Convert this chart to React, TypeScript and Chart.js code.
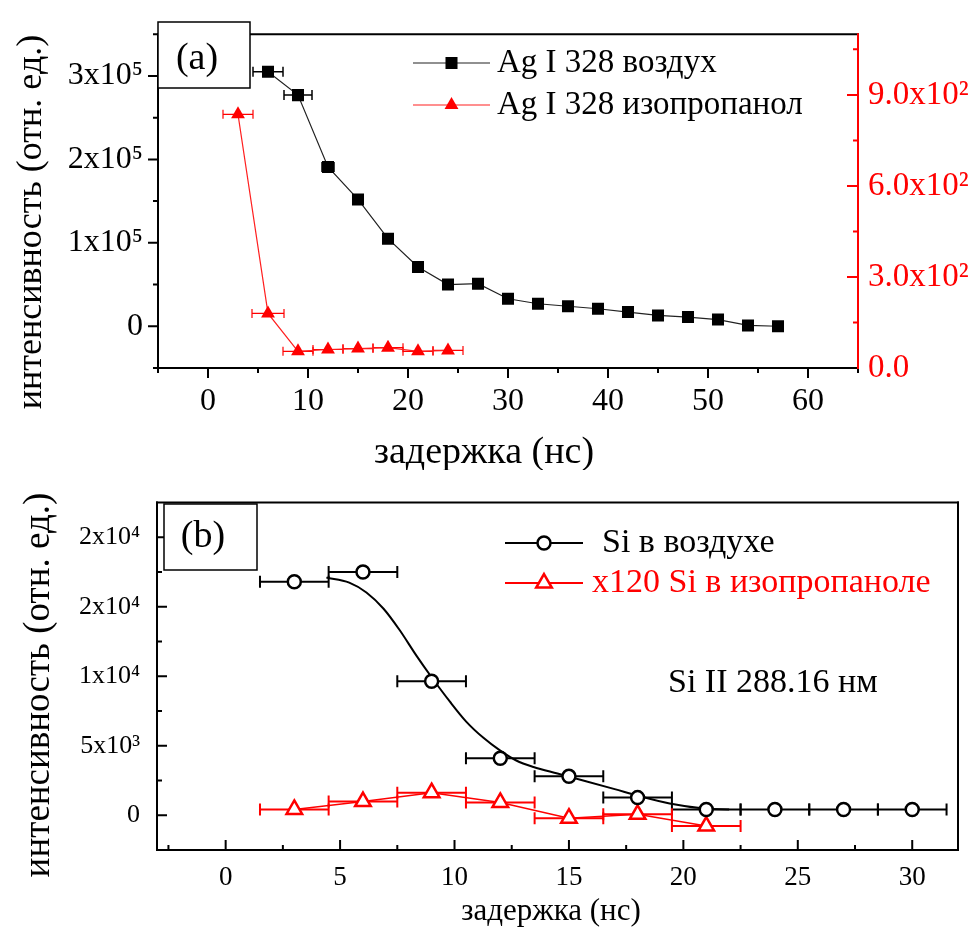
import React, { useEffect, useRef } from 'react';
import { Chart, registerables } from 'chart.js';

Chart.register(...registerables);

const SERIF = '"Liberation Serif", "Times New Roman", "DejaVu Serif", serif';

// ---------- Panel (a): Ag I 328 ----------
const agDelayAir = [6, 9, 12, 15, 18, 21, 24, 27, 30, 33, 36, 39, 42, 45, 48, 51, 54, 57];
const agAir = [305000, 277000, 191000, 152000, 105000, 71000, 50000, 51000, 33000, 27000, 24000, 21000, 17000, 13000, 11000, 8000, 1000, 0];
const agAirErr = [1.5, 1.4, 0.6, 0.5, 0, 0, 0, 0, 0, 0, 0, 0, 0, 0, 0, 0, 0, 0];
const agDelayIso = [3, 6, 9, 12, 15, 18, 21, 24];
const agIso = [836, 180, 55, 61, 64, 67, 55, 58];
const agIsoErr = [1.5, 1.6, 1.5, 1.5, 1.5, 1.5, 1.5, 1.5];

const xTicksA = [0, 10, 20, 30, 40, 50, 60];
const xTickLabelsA = ['0', '10', '20', '30', '40', '50', '60'];
const xMinorA = [-5, 5, 15, 25, 35, 45, 55, 65];
const yTicksA = [0, 100000, 200000, 300000];
const yTickLabelsA = ['0', '1x10⁵', '2x10⁵', '3x10⁵'];
const yMinorA = [-50000, 50000, 150000, 250000, 350000];
const y2TicksA = [0, 300, 600, 900];
const y2TickLabelsA = ['0.0', '3.0x10²', '6.0x10²', '9.0x10²'];
const y2MinorA = [150, 450, 750, 1050];

// ---------- Panel (b): Si II 288.16 ----------
const siDelay = [3, 6, 9, 12, 15, 18, 21, 24, 27, 30];
const siAir = [16800, 17500, 9650, 4100, 2800, 1270, 420, 420, 420, 420];
const siAirErr = [1.5, 1.5, 1.5, 1.5, 1.5, 1.5, 1.5, 1.5, 1.5, 1.5];
const siIsoDelay = [3, 6, 9, 12, 15, 18, 21];
const siIso = [420, 990, 1620, 920, -210, 70, -780];
const siIsoErr = [1.5, 1.5, 1.5, 1.5, 1.5, 1.5, 1.5];
const fitDelay = [4.4, 5.4, 6.15, 6.9, 7.6, 8.35, 9.0, 9.8, 10.5, 11.25, 12.0, 12.7, 13.45, 14.5, 15.5, 17.0, 18.0, 19.4, 20.9, 22.0];
const fitAir = [17100, 16740, 16030, 14860, 13330, 11450, 9930, 8170, 6760, 5590, 4650, 3940, 3470, 3000, 2560, 1880, 1410, 850, 490, 420];

const xTicksB = [0, 5, 10, 15, 20, 25, 30];
const xTickLabelsB = ['0', '5', '10', '15', '20', '25', '30'];
const xMinorB = [-2.5, 2.5, 7.5, 12.5, 17.5, 22.5, 27.5];
const yTicksB = [0, 5000, 10000, 15000, 20000];
const yTickLabelsB = ['0', '5x10³', '1x10⁴', '2x10⁴', '2x10⁴'];
const yMinorB = [2500, 7500, 12500, 17500];

type Side = 'top' | 'bottom' | 'left' | 'right';

function drawMarker(ctx: CanvasRenderingContext2D, style: string, x: number, y: number, r: number, fill: string, stroke: string, lw: number) {
  ctx.save();
  ctx.beginPath();
  if (style === 'rect') {
    const s = Math.SQRT1_2 * r;
    ctx.rect(x - s, y - s, 2 * s, 2 * s);
  } else if (style === 'triangle') {
    let rad = 0;
    ctx.moveTo(x + Math.sin(rad) * r, y - Math.cos(rad) * r);
    rad += (2 * Math.PI) / 3;
    ctx.lineTo(x + Math.sin(rad) * r, y - Math.cos(rad) * r);
    rad += (2 * Math.PI) / 3;
    ctx.lineTo(x + Math.sin(rad) * r, y - Math.cos(rad) * r);
    ctx.closePath();
  } else {
    ctx.arc(x, y, r, 0, Math.PI * 2);
  }
  ctx.fillStyle = fill;
  ctx.fill();
  if (lw > 0) {
    ctx.lineWidth = lw;
    ctx.strokeStyle = stroke;
    ctx.stroke();
  }
  ctx.restore();
}

function makeDecor(cfg: any) {
  return {
    id: 'decor',
    beforeDatasetsDraw(chart: any) {
      const ctx: CanvasRenderingContext2D = chart.ctx;
      (cfg.errorBars || []).forEach((eb: any) => {
        const meta = chart.getDatasetMeta(eb.dataset);
        const xs = chart.scales[meta.xAxisID];
        const ds = chart.data.datasets[eb.dataset];
        ctx.save();
        ctx.strokeStyle = eb.color;
        ctx.lineWidth = eb.width;
        meta.data.forEach((el: any, i: number) => {
          const err = eb.err[i];
          if (!err) return;
          const raw = ds.data[i];
          const x1 = xs.getPixelForValue(raw.x - err);
          const x2 = xs.getPixelForValue(raw.x + err);
          const y = el.y;
          ctx.beginPath();
          ctx.moveTo(x1, y);
          ctx.lineTo(x2, y);
          ctx.moveTo(x1, y - eb.cap / 2);
          ctx.lineTo(x1, y + eb.cap / 2);
          ctx.moveTo(x2, y - eb.cap / 2);
          ctx.lineTo(x2, y + eb.cap / 2);
          ctx.stroke();
        });
        ctx.restore();
      });
    },
    afterDraw(chart: any) {
      const ctx: CanvasRenderingContext2D = chart.ctx;
      const a = chart.chartArea;
      ctx.save();
      (cfg.ticks || []).forEach((t: any) => {
        const sc = chart.scales[t.scale];
        ctx.strokeStyle = t.color;
        ctx.lineWidth = t.width;
        ctx.beginPath();
        t.values.forEach((v: number) => {
          const p = sc.getPixelForValue(v);
          if (t.side === 'bottom') {
            ctx.moveTo(p, a.bottom);
            ctx.lineTo(p, t.dir === 'out' ? a.bottom + t.len : a.bottom - t.len);
          } else if (t.side === 'left') {
            ctx.moveTo(a.left, p);
            ctx.lineTo(t.dir === 'out' ? a.left - t.len : a.left + t.len, p);
          } else if (t.side === 'right') {
            ctx.moveTo(a.right, p);
            ctx.lineTo(t.dir === 'out' ? a.right + t.len : a.right - t.len, p);
          }
        });
        ctx.stroke();
      });
      (cfg.edges || []).forEach((e: { side: Side; color: string; width: number }) => {
        ctx.strokeStyle = e.color;
        ctx.lineWidth = e.width;
        ctx.beginPath();
        if (e.side === 'top') { ctx.moveTo(a.left - 1, a.top); ctx.lineTo(a.right + 1, a.top); }
        if (e.side === 'bottom') { ctx.moveTo(a.left - 1, a.bottom); ctx.lineTo(a.right + 1, a.bottom); }
        if (e.side === 'left') { ctx.moveTo(a.left, a.top - 1); ctx.lineTo(a.left, a.bottom + 1); }
        if (e.side === 'right') { ctx.moveTo(a.right, a.top - 1); ctx.lineTo(a.right, a.bottom + 1); }
        ctx.stroke();
      });
      (cfg.boxes || []).forEach((b: any) => {
        ctx.fillStyle = '#fff';
        ctx.fillRect(b.x, b.y, b.w, b.h);
        ctx.strokeStyle = '#000';
        ctx.lineWidth = 1.5;
        ctx.strokeRect(b.x, b.y, b.w, b.h);
      });
      (cfg.legend || []).forEach((l: any) => {
        const ds = chart.data.datasets[l.dataset];
        ctx.strokeStyle = ds.borderColor;
        ctx.lineWidth = l.lineWidth;
        ctx.beginPath();
        ctx.moveTo(l.x1, l.y);
        ctx.lineTo(l.x2, l.y);
        ctx.stroke();
        drawMarker(ctx, ds.pointStyle, (l.x1 + l.x2) / 2, l.y, ds.pointRadius, ds.pointBackgroundColor, ds.pointBorderColor, ds.pointBorderWidth);
        ctx.fillStyle = l.textColor;
        ctx.font = l.font;
        ctx.textAlign = 'left';
        ctx.textBaseline = 'middle';
        ctx.fillText(ds.label, l.textX, l.y);
      });
      (cfg.texts || []).forEach((t: any) => {
        ctx.save();
        ctx.fillStyle = t.color || '#000';
        ctx.font = t.font;
        ctx.textAlign = t.align || 'center';
        ctx.textBaseline = 'middle';
        ctx.translate(t.x, t.y);
        if (t.rotate) ctx.rotate(t.rotate);
        ctx.fillText(t.text, 0, 0);
        ctx.restore();
      });
      ctx.restore();
    },
  };
}

function fixedTicks(values: number[]) {
  return (scale: any) => {
    scale.ticks = values.map((v) => ({ value: v }));
  };
}

function axis(opts: any) {
  return {
    type: 'linear',
    position: opts.position,
    min: opts.min,
    max: opts.max,
    afterBuildTicks: fixedTicks(opts.ticks),
    afterFit: (s: any) => {
      if (opts.position === 'bottom') s.height = opts.size;
      else s.width = opts.size;
    },
    grid: { display: false, drawTicks: false, tickLength: 0 },
    border: { display: false },
    title: { display: false },
    ticks: {
      autoSkip: false,
      maxRotation: 0,
      padding: opts.padding,
      color: opts.color,
      font: { family: SERIF, size: opts.fontSize },
      callback: (_v: any, i: number) => opts.labels[i],
    },
  };
}

function configA(): any {
  const decor = makeDecor({
    errorBars: [
      { dataset: 0, err: agAirErr, color: '#000', width: 1.5, cap: 10 },
      { dataset: 1, err: agIsoErr, color: '#ff0000', width: 1.2, cap: 9 },
    ],
    ticks: [
      { scale: 'x', side: 'bottom', values: xTicksA, len: 10, dir: 'out', color: '#000', width: 2 },
      { scale: 'x', side: 'bottom', values: xMinorA, len: 5, dir: 'out', color: '#000', width: 2 },
      { scale: 'y', side: 'left', values: yTicksA, len: 10, dir: 'out', color: '#000', width: 2 },
      { scale: 'y', side: 'left', values: yMinorA, len: 5, dir: 'out', color: '#000', width: 2 },
      { scale: 'y2', side: 'right', values: y2TicksA, len: 11, dir: 'in', color: '#ff0000', width: 2 },
      { scale: 'y2', side: 'right', values: y2MinorA, len: 5, dir: 'in', color: '#ff0000', width: 2 },
    ],
    edges: [
      { side: 'top', color: '#000', width: 2 },
      { side: 'bottom', color: '#000', width: 2 },
      { side: 'left', color: '#000', width: 2 },
      { side: 'right', color: '#ff0000', width: 2 },
    ],
    boxes: [{ x: 158, y: 22, w: 92, h: 66 }],
    legend: [
      { dataset: 0, x1: 413, x2: 490, y: 63, lineWidth: 1.2, textX: 497, textColor: '#000', font: `33px ${SERIF}` },
      { dataset: 1, x1: 413, x2: 490, y: 105, lineWidth: 1.2, textX: 497, textColor: '#000', font: `33px ${SERIF}` },
    ],
    texts: [
      { text: '(a)', x: 197, y: 59, font: `38px ${SERIF}` },
      { text: 'интенсивность (отн. ед.)', x: 32, y: 222, font: `36px ${SERIF}`, rotate: -Math.PI / 2 },
      { text: 'задержка (нс)', x: 484, y: 453, font: `38px ${SERIF}` },
    ],
  });
  return {
    type: 'line',
    data: {
      datasets: [
        {
          label: 'Ag I 328 воздух',
          data: agDelayAir.map((x, i) => ({ x, y: agAir[i] })),
          yAxisID: 'y',
          borderColor: '#222',
          borderWidth: 1.2,
          pointStyle: 'rect',
          pointRadius: 8.5,
          pointBackgroundColor: '#000',
          pointBorderColor: '#000',
          pointBorderWidth: 0,
          tension: 0,
        },
        {
          label: 'Ag I 328 изопропанол',
          data: agDelayIso.map((x, i) => ({ x, y: agIso[i] })),
          yAxisID: 'y2',
          borderColor: '#ff2020',
          borderWidth: 1.2,
          pointStyle: 'triangle',
          pointRadius: 8,
          pointBackgroundColor: '#ff0000',
          pointBorderColor: '#ff0000',
          pointBorderWidth: 0,
          tension: 0,
        },
      ],
    },
    options: {
      responsive: false,
      animation: false,
      events: [],
      devicePixelRatio: 1,
      layout: { padding: { top: 26, left: 0, right: 0, bottom: 0 } },
      plugins: { legend: { display: false }, tooltip: { enabled: false } },
      scales: {
        x: axis({ position: 'bottom', min: -5, max: 65, ticks: xTicksA, labels: xTickLabelsA, size: 102, padding: 14, color: '#000', fontSize: 32 }),
        y: axis({ position: 'left', min: -50000, max: 350000, ticks: yTicksA, labels: yTickLabelsA, size: 158, padding: 15, color: '#000', fontSize: 32 }),
        y2: axis({ position: 'right', min: 0, max: 1100, ticks: y2TicksA, labels: y2TickLabelsA, size: 118, padding: 10, color: '#ff0000', fontSize: 33 }),
      },
    },
    plugins: [decor],
  };
}

function configB(): any {
  const decor = makeDecor({
    errorBars: [
      { dataset: 0, err: siAirErr, color: '#000', width: 2, cap: 12 },
      { dataset: 1, err: siIsoErr, color: '#ff0000', width: 2, cap: 12 },
    ],
    ticks: [
      { scale: 'x', side: 'bottom', values: xTicksB, len: 10, dir: 'in', color: '#000', width: 2 },
      { scale: 'x', side: 'bottom', values: xMinorB, len: 5, dir: 'in', color: '#000', width: 2 },
      { scale: 'y', side: 'left', values: yTicksB, len: 10, dir: 'in', color: '#000', width: 2 },
      { scale: 'y', side: 'left', values: yMinorB, len: 5, dir: 'in', color: '#000', width: 2 },
    ],
    edges: [
      { side: 'top', color: '#000', width: 2 },
      { side: 'bottom', color: '#000', width: 2 },
      { side: 'left', color: '#000', width: 2 },
      { side: 'right', color: '#000', width: 2 },
    ],
    boxes: [{ x: 164, y: 34, w: 93, h: 66 }],
    legend: [
      { dataset: 0, x1: 505, x2: 583, y: 73, lineWidth: 2, textX: 602, textColor: '#000', font: `34px ${SERIF}` },
      { dataset: 1, x1: 505, x2: 583, y: 113, lineWidth: 2, textX: 592, textColor: '#ff0000', font: `34px ${SERIF}` },
    ],
    texts: [
      { text: '(b)', x: 203, y: 67, font: `38px ${SERIF}` },
      { text: 'Si II 288.16 нм', x: 668, y: 213, font: `34px ${SERIF}`, align: 'left' },
      { text: 'интенсивность (отн. ед.)', x: 39, y: 215, font: `37px ${SERIF}`, rotate: -Math.PI / 2 },
      { text: 'задержка (нс)', x: 551, y: 442, font: `31px ${SERIF}` },
    ],
  });
  return {
    type: 'line',
    data: {
      datasets: [
        {
          label: 'Si в воздухе',
          data: siDelay.map((x, i) => ({ x, y: siAir[i] })),
          borderColor: '#000',
          showLine: false,
          pointStyle: 'circle',
          pointRadius: 6.5,
          pointBackgroundColor: '#fff',
          pointBorderColor: '#000',
          pointBorderWidth: 2.5,
        },
        {
          label: 'x120 Si в изопропаноле',
          data: siIsoDelay.map((x, i) => ({ x, y: siIso[i] })),
          borderColor: '#ff0000',
          borderWidth: 1.5,
          pointStyle: 'triangle',
          pointRadius: 9,
          pointBackgroundColor: '#fff',
          pointBorderColor: '#ff0000',
          pointBorderWidth: 2.5,
          tension: 0,
        },
        {
          label: 'fit',
          data: fitDelay.map((x, i) => ({ x, y: fitAir[i] })),
          borderColor: '#000',
          borderWidth: 2,
          pointRadius: 0,
          cubicInterpolationMode: 'monotone',
        },
      ],
    },
    options: {
      responsive: false,
      animation: false,
      events: [],
      devicePixelRatio: 1,
      layout: { padding: { top: 27, left: 0, right: 18, bottom: 0 } },
      plugins: { legend: { display: false }, tooltip: { enabled: false } },
      scales: {
        x: axis({ position: 'bottom', min: -3, max: 32, ticks: xTicksB, labels: xTickLabelsB, size: 80, padding: 12, color: '#000', fontSize: 27 }),
        y: axis({ position: 'left', min: -2500, max: 22500, ticks: yTicksB, labels: yTickLabelsB, size: 157, padding: 17, color: '#000', fontSize: 26 }),
      },
    },
    plugins: [decor],
  };
}

export default function App() {
  const refA = useRef<HTMLCanvasElement>(null);
  const refB = useRef<HTMLCanvasElement>(null);
  useEffect(() => {
    const a = new Chart(refA.current as HTMLCanvasElement, configA());
    const b = new Chart(refB.current as HTMLCanvasElement, configB());
    return () => {
      a.destroy();
      b.destroy();
    };
  }, []);
  return (
    <div style={{ position: 'absolute', left: 0, top: 0, width: 976, height: 930, background: '#fff' }}>
      <canvas ref={refA} width={976} height={470} style={{ position: 'absolute', left: 0, top: 0, width: 976, height: 470 }} />
      <canvas ref={refB} width={976} height={460} style={{ position: 'absolute', left: 0, top: 470, width: 976, height: 460 }} />
    </div>
  );
}
